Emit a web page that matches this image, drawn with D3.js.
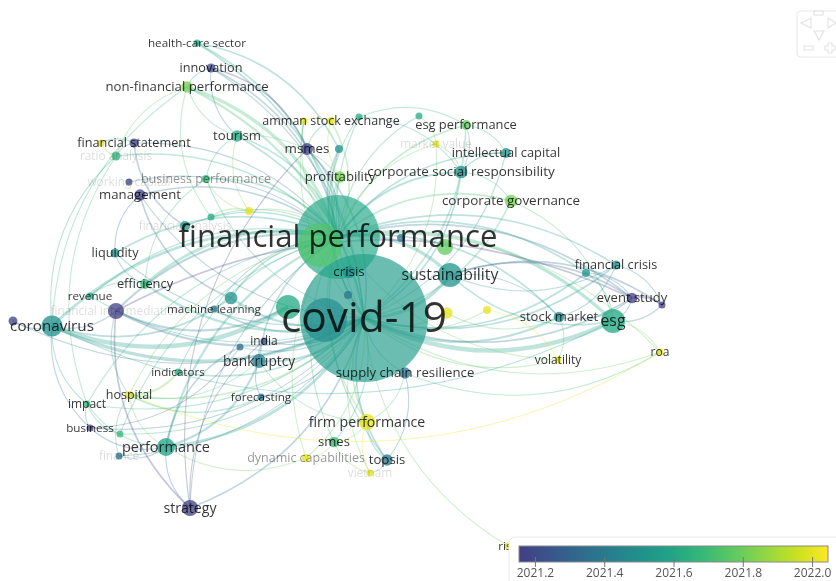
<!DOCTYPE html>
<html>
<head>
<meta charset="utf-8">
<script src="https://cdnjs.cloudflare.com/ajax/libs/d3/7.8.5/d3.min.js"></script>
<style>
  html, body { margin: 0; padding: 0; background: #fff; overflow: hidden; }
  #map { filter: blur(0.4px); }
  text { font-family: "Open Sans", sans-serif; }
</style>
</head>
<body>
<div id="map"></div>
<script>
// keywords of the co-occurrence map, in map units
const keywords = [
  "covid-19", "financial performance", "sustainability", "esg", "coronavirus", "crisis",
  "roe", "pandemic", "covid", "financial ratios", "governance", "resilience", "sme", "returns",
  "financial analysis", "machine learning", "liquidity", "efficiency", "revenue", "banks", "financial intermediation", "italy",
  "management", "working capital", "ratio analysis", "financial statement", "accounting",
  "business performance", "digitalization", "leverage",
  "health-care sector", "innovation", "non-financial performance", "tourism", "msmes", "capital",
  "jordan", "amman stock exchange", "hotels", "disclosure", "esg performance", "market value",
  "intellectual capital", "corporate social responsibility", "corporate governance", "profitability",
  "financial crisis", "china", "event study", "abnormal returns", "stock market", "roa", "volatility",
  "supply chain resilience", "risk", "india", "firm value", "bankruptcy", "indicators", "hospital",
  "forecasting", "impact", "business", "health", "finance", "performance", "strategy",
  "firm performance", "smes", "dynamic capabilities", "topsis", "vietnam"
];
const mapX = [
  36.4, 33.8, 45.0, 61.3, 5.2, 34.9,
  32.0, 32.5, 28.8, 44.5, 40.1, 34.8, 44.7, 48.7,
  18.5, 21.4, 11.5, 14.5, 9.0, 23.1, 11.6, 1.3,
  14.0, 12.9, 11.6, 13.4, 10.1,
  20.6, 21.1, 24.9,
  19.7, 21.1, 18.7, 23.7, 30.7, 33.9,
  30.4, 33.1, 35.9, 41.9, 46.6, 43.6,
  50.6, 46.1, 51.1, 34.0,
  61.6, 58.6, 63.2, 66.2, 55.9, 66.0, 55.8,
  40.5, 50.8, 26.4, 24.0, 25.9, 17.8, 12.9,
  26.1, 8.7, 9.0, 12.0, 11.9, 16.6, 19.0,
  36.7, 33.4, 30.6, 38.7, 37.0
];
const mapY = [
  31.8, 23.7, 27.5, 32.1, 32.6, 27.2,
  24.5, 32.0, 30.7, 24.7, 23.8, 29.5, 31.3, 31.0,
  22.6, 30.9, 25.3, 28.4, 29.6, 29.8, 31.1, 32.1,
  19.5, 18.2, 15.6, 14.3, 14.3,
  17.9, 21.7, 21.1,
  4.3, 6.8, 8.7, 13.6, 14.9, 14.9,
  12.1, 12.1, 11.7, 11.6, 12.5, 14.4,
  15.3, 17.2, 20.1, 17.7,
  26.5, 27.3, 29.8, 30.5, 31.7, 35.2, 36.0,
  37.3, 54.6, 34.1, 34.7, 36.1, 37.2, 39.5,
  39.7, 40.4, 42.8, 43.4, 45.6, 44.7, 50.8,
  42.2, 44.2, 45.8, 46.0, 47.3
];
const occurrences = [
  512, 220, 18, 18, 14, 5,
  60, 60, 18, 8, 2, 2, 4, 2,
  3, 0.5, 2.5, 3, 0.5, 5, 8, 2.5,
  4, 1.5, 2.5, 2.5, 1.5,
  2, 1.5, 2,
  0.5, 2.5, 4, 4, 4.5, 2,
  1.5, 2, 1.5, 1, 3, 1,
  3, 5, 5, 4,
  2.5, 2, 3.5, 1.5, 3.5, 1, 1,
  4, 0.5, 1, 1.5, 6, 0.5, 2,
  0.5, 1, 0.5, 1.5, 1.5, 10, 8,
  8, 3.5, 2, 4, 1
];
const avgYear = [
  2021.55, 2021.6, 2021.52, 2021.62, 2021.5, 2021.5,
  2021.75, 2021.48, 2021.62, 2021.78, 2021.38, 2021.38, 2022.0, 2022.0,
  2021.55, 2021.38, 2021.5, 2021.68, 2021.62, 2021.52, 2021.16, 2021.16,
  2021.16, 2021.18, 2021.68, 2021.16, 2022.0,
  2021.68, 2021.62, 2022.0,
  2021.62, 2021.2, 2021.82, 2021.62, 2021.16, 2021.5,
  2022.0, 2022.0, 2021.62, 2021.64, 2021.78, 2022.0,
  2021.5, 2021.5, 2021.82, 2021.82,
  2021.5, 2021.52, 2021.16, 2021.16, 2021.48, 2022.0, 2022.0,
  2021.36, 2022.0, 2021.2, 2021.33, 2021.42, 2021.62, 2022.0,
  2021.35, 2021.68, 2021.16, 2021.68, 2021.36, 2021.58, 2021.16,
  2022.0, 2021.68, 2022.0, 2021.38, 2022.0
];

// labels VOSviewer left out or was still fading in
const unlabelled = ["roe", "pandemic", "covid", "financial ratios", "governance", "resilience", "sme", "returns",
  "banks", "italy", "accounting", "digitalization", "leverage", "capital", "jordan", "hotels", "disclosure",
  "china", "firm value", "health", "abnormal returns"];
const fadedLabels = ["financial analysis", "financial intermediation", "ratio analysis", "working capital",
  "market value", "finance", "vietnam"];
const greyLabels = ["dynamic capabilities", "business performance"];

// links: [neighbour, strength]
const covidLinks = [
  ["esg", 4], ["sustainability", 3], ["stock market", 2], ["performance", 2.5], ["bankruptcy", 2],
  ["strategy", 1.5], ["firm performance", 1.5], ["smes", 1], ["topsis", 1.5], ["vietnam", 1], ["dynamic capabilities", 1],
  ["supply chain resilience", 1], ["risk", 1], ["roa", 1], ["volatility", 1], ["event study", 1.5], ["financial crisis", 1.5],
  ["china", 1.5], ["hospital", 1.5], ["indicators", 1.5], ["impact", 1], ["business", 1], ["health", 1], ["finance", 1],
  ["forecasting", 1], ["india", 1], ["firm value", 1], ["machine learning", 1.5], ["efficiency", 2], ["revenue", 1],
  ["liquidity", 1], ["management", 1], ["tourism", 1.5], ["msmes", 1.5], ["profitability", 1.5], ["capital", 1.5],
  ["hotels", 1], ["jordan", 1], ["market value", 1], ["corporate social responsibility", 1.5], ["corporate governance", 1.5],
  ["intellectual capital", 1], ["esg performance", 1.5], ["health-care sector", 1.5], ["innovation", 1], ["non-financial performance", 2],
  ["business performance", 1], ["financial intermediation", 2], ["italy", 1], ["banks", 2], ["returns", 1], ["sme", 1]
];
const fpLinks = [
  ["esg", 3], ["coronavirus", 2.5], ["sustainability", 3], ["stock market", 1.5], ["performance", 2], ["bankruptcy", 1.5],
  ["financial statement", 1], ["ratio analysis", 1.5], ["working capital", 1], ["management", 1.5], ["business performance", 1.5],
  ["digitalization", 1], ["leverage", 1], ["financial analysis", 1.5], ["liquidity", 1.5], ["efficiency", 2.5], ["revenue", 1],
  ["banks", 1.5], ["financial intermediation", 2], ["machine learning", 1], ["non-financial performance", 3], ["health-care sector", 1.5],
  ["innovation", 1.5], ["tourism", 1.5], ["msmes", 1.5], ["profitability", 1.5], ["capital", 1.5], ["amman stock exchange", 1.5],
  ["jordan", 1], ["hotels", 1], ["disclosure", 1], ["esg performance", 1.5], ["market value", 1], ["intellectual capital", 1.5],
  ["corporate social responsibility", 2], ["corporate governance", 1.5], ["financial crisis", 1.5], ["china", 1.5], ["event study", 1.5],
  ["hospital", 1], ["firm performance", 1.5], ["smes", 1], ["topsis", 1], ["dynamic capabilities", 1], ["strategy", 1], ["roa", 1],
  ["volatility", 1], ["impact", 1], ["health", 1], ["indicators", 1]
];
const otherLinks = [
  ["coronavirus", "covid", 4], ["coronavirus", "covid-19", 3], ["coronavirus", "non-financial performance", 1], ["coronavirus", "ratio analysis", 1],
  ["coronavirus", "italy", 1], ["coronavirus", "impact", 1], ["coronavirus", "business", 1], ["coronavirus", "financial intermediation", 1],
  ["coronavirus", "banks", 1.5], ["coronavirus", "esg", 1], ["financial intermediation", "strategy", 1.5], ["financial intermediation", "hospital", 1],
  ["financial intermediation", "event study", 1.5], ["financial intermediation", "covid", 2], ["sustainability", "abnormal returns", 1.5],
  ["strategy", "performance", 1], ["strategy", "msmes", 1], ["strategy", "india", 1], ["performance", "firm value", 1.5],
  ["performance", "bankruptcy", 2], ["performance", "business", 1], ["performance", "finance", 1], ["performance", "hospital", 1],
  ["impact", "business", 1], ["impact", "health", 1], ["impact", "performance", 1], ["hospital", "indicators", 2],
  ["hospital", "forecasting", 1.5], ["hospital", "finance", 1], ["hospital", "bankruptcy", 1], ["business", "firm value", 1],
  ["management", "banks", 1.5], ["management", "liquidity", 1], ["financial statement", "financial analysis", 1.5], ["financial statement", "accounting", 1],
  ["ratio analysis", "financial statement", 1], ["ratio analysis", "accounting", 1], ["ratio analysis", "impact", 1], ["ratio analysis", "non-financial performance", 1],
  ["non-financial performance", "innovation", 1], ["non-financial performance", "tourism", 1], ["non-financial performance", "digitalization", 1],
  ["innovation", "msmes", 1.5], ["innovation", "tourism", 1], ["health-care sector", "capital", 1.5], ["tourism", "business performance", 1],
  ["tourism", "profitability", 1], ["tourism", "leverage", 1], ["digitalization", "leverage", 1.5], ["business performance", "leverage", 1],
  ["amman stock exchange", "jordan", 1], ["amman stock exchange", "profitability", 1], ["msmes", "amman stock exchange", 1], ["msmes", "jordan", 1],
  ["hotels", "esg performance", 1], ["hotels", "corporate social responsibility", 1], ["market value", "corporate social responsibility", 1],
  ["esg performance", "corporate social responsibility", 1], ["esg performance", "intellectual capital", 1], ["intellectual capital", "corporate social responsibility", 1],
  ["corporate governance", "corporate social responsibility", 1], ["corporate governance", "esg", 1], ["disclosure", "market value", 1],
  ["sustainability", "event study", 1.5], ["sustainability", "financial crisis", 1], ["sustainability", "esg", 1.5], ["sustainability", "stock market", 1],
  ["stock market", "event study", 1], ["stock market", "financial crisis", 1], ["stock market", "volatility", 1], ["esg", "event study", 1],
  ["esg", "abnormal returns", 1], ["esg", "roa", 1], ["esg", "china", 1], ["event study", "abnormal returns", 2], ["financial crisis", "abnormal returns", 1],
  ["china", "event study", 1], ["volatility", "returns", 1], ["sme", "stock market", 1], ["roa", "supply chain resilience", 1], ["roa", "hospital", 1], ["firm performance", "topsis", 1.5],
  ["firm performance", "vietnam", 1], ["firm performance", "smes", 1], ["smes", "dynamic capabilities", 1], ["smes", "vietnam", 1], ["dynamic capabilities", "performance", 1],
  ["topsis", "vietnam", 1], ["topsis", "supply chain resilience", 1], ["firm performance", "supply chain resilience", 1], ["bankruptcy", "forecasting", 1],
  ["bankruptcy", "firm performance", 1], ["bankruptcy", "india", 1], ["efficiency", "liquidity", 1], ["efficiency", "revenue", 1], ["efficiency", "business performance", 1]
];

// hub links from the top of the map bend against the outward rule in arcPath
const hubs = ["covid-19", "financial performance"];
const innerBends = ["non-financial performance", "health-care sector", "innovation", "tourism", "msmes", "amman stock exchange"];
const flippedLinks = ["financial intermediation|event study", "sustainability|event study", "sustainability|abnormal returns"];

const legendTicks = [2021.2, 2021.4, 2021.6, 2021.8, 2022.0];
const legendDomain = [2021.154, 2022.046];

const width = 836, height = 581;
const x = d3.scaleLinear().domain([0, 83.6]).range([0, width]);
const y = d3.scaleLinear().domain([0, 58.1]).range([0, height]);
const radius = d3.scaleSqrt().domain([0, 512]).range([0, 64]);
// the viewer uses viridis without its darkest part
const palette = t => d3.interpolateViridis(0.18 + 0.82 * t);
const color = d3.scaleSequential(palette).domain(legendDomain);
const fontSize = d3.scaleLinear().domain([0, 4, 12, 64]).range([10.8, 12.5, 15.8, 42.5]);

const nodes = keywords.map((name, i) => ({
  name, mx: mapX[i], my: mapY[i], occ: occurrences[i], year: avgYear[i]
}));
const byName = new Map(nodes.map(d => [d.name, d]));

const links = [
  ...covidLinks.map(d => ["covid-19", d[0], d[1]]),
  ...fpLinks.map(d => ["financial performance", d[0], d[1]]),
  ...otherLinks
].map(d => ({ source: byName.get(d[0]), target: byName.get(d[1]), weight: d[2] }));

const svg = d3.select("#map").append("svg")
  .attr("width", width).attr("height", height)
  .style("display", "block");

// quadratic arc, bulging away from the middle of the map
function arcPath(d) {
  const x0 = x(d.source.mx), y0 = y(d.source.my), x1 = x(d.target.mx), y1 = y(d.target.my);
  const mx = (x0 + x1) / 2, my = (y0 + y1) / 2;
  let nx = -(y1 - y0), ny = x1 - x0;
  if (nx * (mx - x(36.4)) + ny * (my - y(25)) < 0) { nx = -nx; ny = -ny; }
  const flip = (hubs.includes(d.source.name) && innerBends.includes(d.target.name))
    || flippedLinks.includes(d.source.name + "|" + d.target.name);
  if (flip) { nx = -nx; ny = -ny; }
  const p = d3.path();
  p.moveTo(x0, y0);
  p.quadraticCurveTo(mx + nx * 0.25, my + ny * 0.25, x1, y1);
  return p.toString();
}

const linkWidth = d3.scaleLinear().domain([1, 4]).range([1.1, 4.4]);
svg.append("g").attr("fill", "none")
  .selectAll("path").data(links).join("path")
  .attr("d", arcPath)
  .attr("stroke", d => color((d.source.year + d.target.year) / 2))
  .attr("stroke-opacity", 0.29)
  .attr("stroke-width", d => linkWidth(d.weight));

svg.append("g").selectAll("circle")
  .data(nodes.slice().sort((a, b) => b.occ - a.occ)).join("circle")
  .attr("cx", d => x(d.mx))
  .attr("cy", d => y(d.my))
  .attr("r", d => Math.max(radius(d.occ), 3.5))
  .attr("fill", d => color(d.year))
  .attr("fill-opacity", d => d.occ > 30 ? 0.66 : 0.76);

svg.append("g").selectAll("text")
  .data(nodes.filter(d => !unlabelled.includes(d.name))).join("text")
  .attr("x", d => x(d.mx))
  .attr("y", d => y(d.my))
  .attr("dy", "-0.06em")
  .attr("text-anchor", "middle")
  .attr("dominant-baseline", "central")
  .attr("font-size", d => fadedLabels.includes(d.name) ? 11.8 : fontSize(radius(d.occ)))
  .attr("fill", "#000")
  .attr("fill-opacity", d => fadedLabels.includes(d.name) ? 0.14 : greyLabels.includes(d.name) ? 0.42 : 0.8)
  .text(d => d.name);

// colour legend, bottom right
const legend = svg.append("g");
legend.append("rect")
  .attr("x", 509).attr("y", 537).attr("width", 340).attr("height", 60).attr("rx", 6)
  .attr("fill", "#fff").attr("stroke", "#e6e8ec");

const legendX = d3.scaleLinear().domain(legendDomain).range([519, 828]);
const grad = svg.append("defs").append("linearGradient").attr("id", "viridis");
d3.range(0, 1.01, 0.1).forEach(t => {
  grad.append("stop").attr("offset", t).attr("stop-color", palette(t));
});
legend.append("rect")
  .attr("x", legendX.range()[0]).attr("y", 546)
  .attr("width", legendX.range()[1] - legendX.range()[0]).attr("height", 16)
  .attr("fill", "url(#viridis)").attr("stroke", "#8a8a8a");

const legendAxis = d3.axisBottom(legendX).tickValues(legendTicks).tickFormat(d3.format(".1f")).tickSize(10).tickSizeOuter(0);
const axisG = legend.append("g").attr("transform", "translate(0,557)").call(legendAxis);
axisG.select(".domain").remove();
axisG.selectAll("line").attr("stroke", "#777");
axisG.selectAll("text").attr("font-size", 12).attr("fill", "#555").attr("dy", "0.62em")
  .style("font-family", '"Open Sans", sans-serif');

// zoom and pan control, top right
const nav = svg.append("g").attr("fill", "none").attr("stroke", "#e4e4e4").attr("stroke-width", 1.2);
nav.append("rect").attr("x", 797).attr("y", 11).attr("width", 60).attr("height", 46).attr("rx", 4).attr("stroke", "#eaeaea");
const triangles = ["801,23 811,18 811,28", "828,18 836,23 828,28", "814,31 824,31 819,40"];
nav.selectAll("polygon").data(triangles).join("polygon").attr("points", d => d);
nav.append("rect").attr("x", 804).attr("y", 46).attr("width", 9).attr("height", 4);
nav.append("path").attr("d", "M825 46h3v-3h4v3h3v4h-3v3h-4v-3h-3z");
nav.append("rect").attr("x", 814).attr("y", 11).attr("width", 9).attr("height", 4);
</script>
</body>
</html>
